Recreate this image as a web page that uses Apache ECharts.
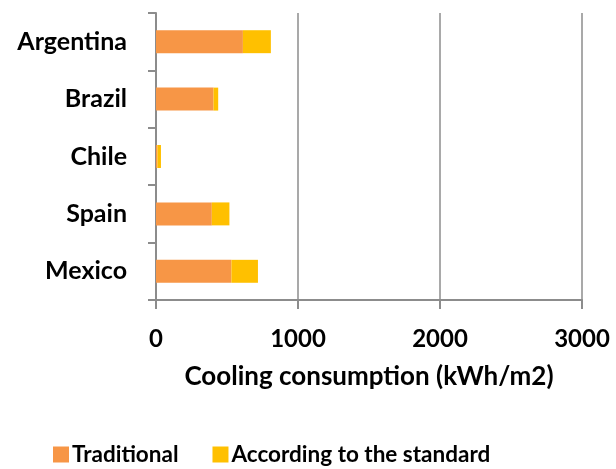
<!DOCTYPE html>
<html>
<head>
<meta charset="utf-8">
<script src="https://cdn.jsdelivr.net/npm/echarts@6/dist/echarts.min.js"></script>
<style>
  html, body { margin: 0; padding: 0; background: #fff; }
  #chart { width: 616px; height: 469px; }
</style>
</head>
<body>
<div id="chart"></div>
<script>
// Countries, top to bottom
const countries = ['Argentina', 'Brazil', 'Chile', 'Spain', 'Mexico'];
// Cooling consumption (kWh/m2), stacked segments
const traditional = [612, 405, 10, 393, 531];
const standard = [197, 33, 25, 124, 187];
const xTicks = [0, 1000, 2000, 3000];

const FONT = 'Lato';
const axisGrey = '#8c8c8c';

const chart = echarts.init(document.getElementById('chart'), null, { renderer: 'canvas' });
chart.setOption({
  animation: false,
  backgroundColor: '#ffffff',
  grid: { left: 156, right: 34, top: 13, bottom: 169, containLabel: false },
  legend: {
    left: 53,
    top: 443,
    padding: 0,
    itemWidth: 16,
    itemHeight: 16,
    itemGap: 34,
    icon: 'rect',
    textStyle: { fontFamily: FONT, fontWeight: 'bold', fontSize: 22.5, color: '#000', padding: [0, 0, 0, -2] },
    data: ['Traditional', 'According to the standard']
  },
  xAxis: {
    type: 'value',
    min: xTicks[0],
    max: xTicks[xTicks.length - 1],
    interval: 1000,
    name: 'Cooling consumption (kWh/m2)',
    nameLocation: 'middle',
    nameGap: 64,
    nameTextStyle: { fontFamily: FONT, fontWeight: 'bold', fontSize: 26, color: '#000' },
    axisLine: { show: true, lineStyle: { color: axisGrey, width: 2 } },
    axisTick: { show: true, length: 9, lineStyle: { color: axisGrey, width: 2 } },
    axisLabel: {
      fontFamily: FONT, fontWeight: 'bold', fontSize: 24, color: '#000', margin: 27,
      formatter: (v) => String(v)
    },
    splitLine: { show: true, lineStyle: { color: axisGrey, width: 1.5 } }
  },
  yAxis: {
    type: 'category',
    data: countries,
    inverse: true,
    axisLine: { show: true, lineStyle: { color: axisGrey, width: 2 } },
    axisTick: { show: true, length: 8, lineStyle: { color: axisGrey, width: 2 } },
    axisLabel: { fontFamily: FONT, fontWeight: 'bold', fontSize: 25, color: '#000', margin: 29 },
    splitLine: { show: false }
  },
  series: [
    {
      name: 'Traditional',
      type: 'bar',
      stack: 'total',
      data: traditional,
      barCategoryGap: '60%',
      itemStyle: { color: '#F79646' }
    },
    {
      name: 'According to the standard',
      type: 'bar',
      stack: 'total',
      data: standard,
      barCategoryGap: '60%',
      itemStyle: { color: '#FFC000' }
    }
  ]
});
</script>
</body>
</html>
